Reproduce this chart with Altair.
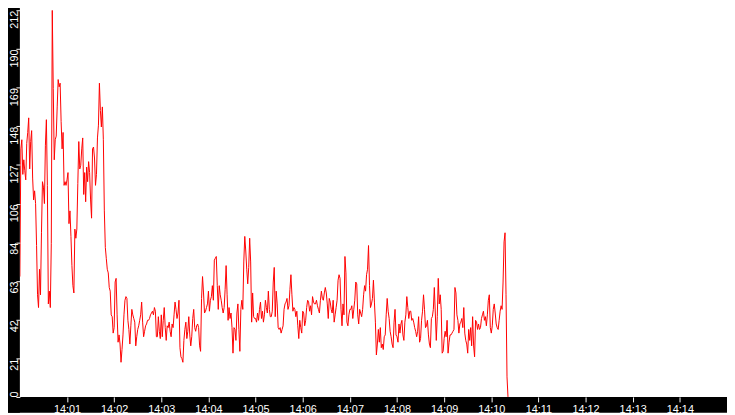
import altair as alt
import pandas as pd

# values, roughly one sample per pixel (1.25 s)
vals_a = [
    66, 136, 141, 122, 130, 124, 119, 139, 145, 153,
    125, 140, 146, 120, 108, 113, 106, 83, 56, 49,
    70, 56, 90, 118, 115, 106, 138, 152, 116, 51,
    58, 49, 84, 212, 169, 130, 141, 143, 159, 174,
    170, 172, 151, 136, 145, 116, 118, 116, 119, 123,
    95, 102, 88, 72, 61, 57, 92, 87, 92, 117,
    140, 125, 127, 136, 142, 111, 123, 107, 126, 118,
    129, 123, 108, 98, 136, 137, 131, 116, 122, 142,
    149, 172, 157, 148, 159, 141, 102, 82, 76, 70,
    68, 60, 58, 45, 44, 35, 38, 63, 65, 45,
]
vals_b = [
    30, 34, 29, 19, 26, 34, 45, 53, 55, 54,
    42, 37, 29, 39, 48, 45, 43, 41, 28, 33,
    37, 39, 42, 45, 52, 41, 33, 36, 39, 40,
    42, 42, 43, 45, 46, 47, 45, 49, 47, 33,
    33, 44, 36, 32, 45, 33, 42, 49, 38, 31,
    39, 38, 41, 36, 33, 40, 38, 45, 52, 48,
    43, 46, 53, 27, 22, 21, 19, 31, 37, 41,
    32, 36, 44, 34, 28, 33, 43, 48, 38, 36,
    39, 40, 38, 28, 25, 54, 66, 57, 46, 47,
    49, 51, 58, 47, 53, 55, 61, 53, 75, 76,
    77, 61, 48, 61, 56, 53, 49, 46, 49, 59,
    72, 56, 42, 49, 43, 46, 38, 24, 38, 37,
    31, 46, 51, 37, 25,
]
vals_c = [
    48, 53, 48, 74, 88, 80, 70, 62, 71, 87,
    74, 41, 57, 44, 43, 43, 41, 46, 42, 48,
    52, 43, 47, 41, 45, 53, 49, 46, 58, 48,
    44, 44, 47, 63, 71, 44, 58, 51, 38, 37,
    38, 35, 37, 39, 48, 51, 52, 54, 48, 50,
    59, 67, 56, 47, 49, 48, 44, 47, 39, 32,
    42, 38, 35, 47, 46, 39, 42, 49, 53, 52,
    47, 50, 45, 55, 52, 51, 51, 53, 50, 48,
    46, 53, 58, 54, 53, 57, 60, 57, 51, 43,
    54, 52, 48, 46, 53, 41, 45, 49, 53, 64,
    67, 65, 48, 39, 51, 45, 77, 68, 41, 39,
    45, 48, 48, 50, 43, 48, 53, 63, 62, 45,
    40, 48, 46, 44, 48, 56, 61, 58, 67, 70,
    83, 61, 49, 51, 54, 64, 52, 41, 23, 29,
]
vals_d = [
    37, 30, 38, 27, 29, 26, 33, 34, 45, 54,
    47, 43, 36, 33, 29, 27, 41, 48, 34, 33,
    30, 40, 35, 40, 42, 34, 31, 41, 45, 55,
    49, 43, 47, 47, 42, 43, 41, 38, 36, 33,
    36, 44, 30, 32, 42, 47, 56, 48, 38, 39,
    42, 34, 29, 27, 43, 44, 48, 60, 46, 31,
    44, 65, 51, 56, 48, 24, 25, 32, 36, 33,
    42, 24, 30, 34, 34, 35, 36, 37, 60, 57,
    45, 42, 35, 40, 41, 43, 38, 49, 35, 31,
    29, 24, 37, 31, 38, 28, 44, 28, 22, 42,
    41, 37, 40, 37, 38, 43, 45, 47, 42, 44,
    39, 45, 53, 56, 38, 35, 39, 48, 51, 46,
    40, 38, 37, 42, 47, 50, 48, 63, 85, 90,
    56, 11, 0,
]

y_ticks = [0, 21.2, 42.4, 63.6, 84.8, 106, 127.2, 148.4, 169.6, 190.8, 212]
x_tick_minutes = list(range(1, 15))

values = vals_a + vals_b + vals_c + vals_d
start = pd.Timestamp("2024-01-01 14:00:00")
times = [start + pd.Timedelta(milliseconds=1250 * i) for i in range(len(values))]
df = pd.DataFrame({"time": times, "value": values})

W, H, LEFT, BOTTOM = 715, 391, 12, 16


def dt(m):
    return alt.DateTime(year=2024, month=1, date=1, hours=14, minutes=m)


x_ticks = [dt(m) for m in x_tick_minutes]

line = (
    alt.Chart(df)
    .mark_line(color="#ff0000", strokeWidth=1, clip=True)
    .encode(
        x=alt.X(
            "time:T",
            scale=alt.Scale(domain=[dt(0), dt(15)]),
            axis=alt.Axis(
                values=x_ticks, format="%H:%M", title=None, domain=False, grid=False,
                tickColor="white", tickSize=5, tickWidth=1,
                labelColor="white", labelFont="Liberation Sans", labelFontSize=11,
                labelPadding=2, labelFlush=False, labelOverlap=False, zindex=2,
            ),
        ),
        y=alt.Y(
            "value:Q",
            scale=alt.Scale(domain=[0, 212], nice=False, zero=True),
            axis=alt.Axis(
                values=y_ticks, labelExpr="floor(datum.value)", title=None,
                domain=False, grid=False, tickColor="white", tickSize=4, tickWidth=1,
                labelColor="white", labelFont="Liberation Sans", labelFontSize=11,
                labelAngle=270,
                labelAlign=alt.ExprRef(expr="datum.value < 1 ? 'left' : 'right'"),
                labelBaseline="alphabetic", labelPadding=-2,
                labelFlush=False, labelOverlap=False, zindex=2,
            ),
        ),
    )
)

strip_df = pd.DataFrame({"k": [0]})
left_strip = alt.Chart(strip_df).mark_rect(color="black", clip=False).encode(
    x=alt.value(-LEFT), x2=alt.value(0), y=alt.value(-10), y2=alt.value(H + BOTTOM)
)
bottom_strip = alt.Chart(strip_df).mark_rect(color="black", clip=False).encode(
    x=alt.value(-LEFT), x2=alt.value(W + 10), y=alt.value(H), y2=alt.value(H + BOTTOM)
)

chart = (
    alt.layer(left_strip, bottom_strip, line)
    .properties(
        width=W, height=H, background="white",
        padding={"left": LEFT, "top": 0, "right": 0, "bottom": BOTTOM},
        autosize=alt.AutoSizeParams(type="none"),
    )
    .configure_view(fill="white", stroke="transparent")
)

chart.save("out.html", embed_options={"renderer": "svg", "actions": False})
